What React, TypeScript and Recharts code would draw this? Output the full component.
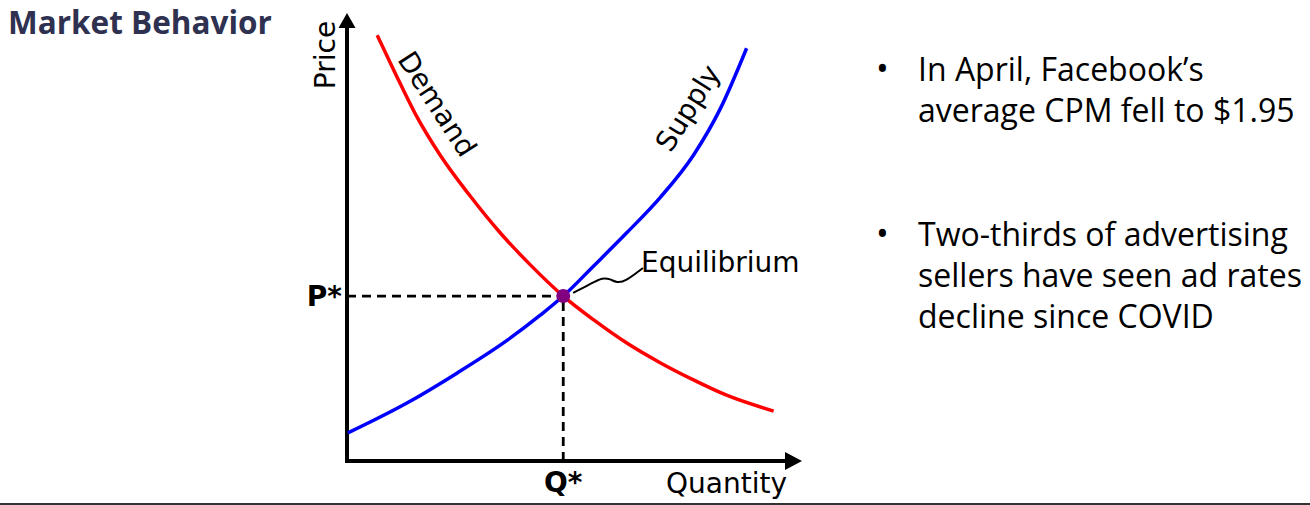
import React from 'react';
import { LineChart, Line, XAxis, YAxis, ReferenceLine, ReferenceDot, Customized } from 'recharts';

// quantity / price readings taken off the diagram (0-10 scale on both axes)
const demandQ = [0.67, 1.07, 1.51, 2.07, 2.73, 3.4, 4.07, 4.8, 5.47, 6.22, 6.96, 7.69, 8.44, 9.47];
const demandP = [9.55, 8.7, 7.8, 6.86, 5.95, 5.12, 4.4, 3.7, 3.17, 2.64, 2.2, 1.82, 1.47, 1.12];

const supplyQ = [0.02, 1.33, 2.44, 3.56, 4.29, 4.8, 5.47, 6.22, 6.96, 7.69, 8.29, 8.87];
const supplyP = [0.63, 1.3, 1.97, 2.71, 3.27, 3.7, 4.37, 5.13, 5.92, 6.86, 7.91, 9.26];

// little squiggle pointing at the equilibrium
const leaderQ = [5.02, 5.4, 5.68, 5.84, 5.99, 6.17, 6.57];
const leaderP = [3.77, 3.97, 4.12, 4.08, 4.0, 4.02, 4.33];

const eqQ = 4.8;
const eqP = 3.7;
const qMax = 10.1;
const pMax = 10.05;

const bullets = [
  ['In April, Facebook\u2019s', 'average CPM fell to $1.95'],
  ['Two-thirds of advertising', 'sellers have seen ad rates', 'decline since COVID'],
];

const zip = (qs: number[], ps: number[]) => qs.map((q, i) => ({ q, p: ps[i] }));
const demand = zip(demandQ, demandP);
const supply = zip(supplyQ, supplyP);
const leader = zip(leaderQ, leaderP);

const LABEL_FONT = '"DejaVu Sans", sans-serif';

const ArrowRight = (props: any) => {
  const { cx, cy } = props;
  return <path d={`M${cx},${cy} L${cx - 17},${cy - 9} L${cx - 17},${cy + 9} Z`} fill="#000" />;
};

const ArrowUp = (props: any) => {
  const { cx, cy } = props;
  return <path d={`M${cx},${cy} L${cx - 8.5},${cy + 15} L${cx + 8.5},${cy + 15} Z`} fill="#000" />;
};

const CurveLabels = () => (
  <g fontFamily={LABEL_FONT} fontSize={28} fill="#000">
    <text x={335} y={55} textAnchor="middle" transform="rotate(-90 335 55)">Price</text>
    <text x={437} y={104} textAnchor="middle" dominantBaseline="central" transform="rotate(57 437 104)">Demand</text>
    <text x={688} y={108} textAnchor="middle" dominantBaseline="central" transform="rotate(-58 688 108)">Supply</text>
    <text x={641} y={272}>Equilibrium</text>
    <text x={666} y={493}>Quantity</text>
  </g>
);

const starLabel = { fill: '#000', fontSize: 28, fontWeight: 700, fontFamily: LABEL_FONT };

export default function App() {
  return (
    <div style={{ position: 'absolute', left: 0, top: 0, width: 1310, height: 505, background: '#fff', overflow: 'hidden' }}>
      <div
        style={{
          position: 'absolute', left: 8, top: 0, fontFamily: '"Open Sans", sans-serif', fontWeight: 700,
          fontSize: 31.5, color: '#2f3150', whiteSpace: 'nowrap',
        }}
      >
        Market Behavior
      </div>

      <LineChart width={1310} height={505} data={demand} margin={{ top: 13, right: 508, bottom: 44, left: 347 }}>
        <XAxis dataKey="q" type="number" domain={[0, qMax]} hide allowDataOverflow />
        <YAxis type="number" domain={[0, pMax]} hide allowDataOverflow />
        <ReferenceLine segment={[{ x: 0, y: eqP }, { x: eqQ, y: eqP }]} stroke="#000" strokeWidth={2.8} strokeDasharray="9 6" />
        <ReferenceLine segment={[{ x: eqQ, y: 0 }, { x: eqQ, y: eqP }]} stroke="#000" strokeWidth={2.8} strokeDasharray="9 6" />
        <ReferenceLine
          segment={[{ x: 0, y: 0 }, { x: qMax - 0.2, y: 0 }]}
          stroke="#000"
          strokeWidth={4}
          strokeLinecap="square"
          ifOverflow="visible"
        />
        <ReferenceLine
          segment={[{ x: 0, y: 0 }, { x: 0, y: pMax - 0.2 }]}
          stroke="#000"
          strokeWidth={4}
          strokeLinecap="square"
          ifOverflow="visible"
        />
        <Line data={demand} dataKey="p" type="monotone" stroke="#ff0000" strokeWidth={3.5} dot={false} isAnimationActive={false} />
        <Line data={supply} dataKey="p" type="monotone" stroke="#0000ff" strokeWidth={3.5} dot={false} isAnimationActive={false} />
        <Line data={leader} dataKey="p" type="basis" stroke="#000" strokeWidth={2} dot={false} isAnimationActive={false} />
        <ReferenceDot x={eqQ} y={eqP} r={7} fill="#800080" stroke="none" ifOverflow="visible" />
        <ReferenceDot x={qMax} y={0} shape={ArrowRight} ifOverflow="visible" />
        <ReferenceDot x={0} y={pMax} shape={ArrowUp} ifOverflow="visible" />
        <ReferenceDot
          x={0}
          y={eqP}
          r={1}
          fill="none"
          stroke="none"
          ifOverflow="visible"
          label={{ value: 'P*', position: 'left', offset: 4, ...starLabel }}
        />
        <ReferenceDot
          x={eqQ}
          y={0}
          r={1}
          fill="none"
          stroke="none"
          ifOverflow="visible"
          label={{ value: 'Q*', position: 'bottom', offset: 10, ...starLabel }}
        />
        <Customized component={CurveLabels} />
      </LineChart>

      {bullets.map((lines, i) => (
        <div
          key={i}
          style={{
            position: 'absolute', left: 918, top: i === 0 ? 48 : 213, fontFamily: '"Open Sans", sans-serif',
            fontSize: 32, lineHeight: '41px', color: '#000', whiteSpace: 'nowrap',
          }}
        >
          <span style={{ position: 'absolute', left: -42, fontSize: 34 }}>{'\u2022'}</span>
          {lines.map((l, j) => (
            <div key={j}>{l}</div>
          ))}
        </div>
      ))}

      <div style={{ position: 'absolute', left: 0, top: 503, width: 1310, height: 2, background: '#333' }} />
    </div>
  );
}
